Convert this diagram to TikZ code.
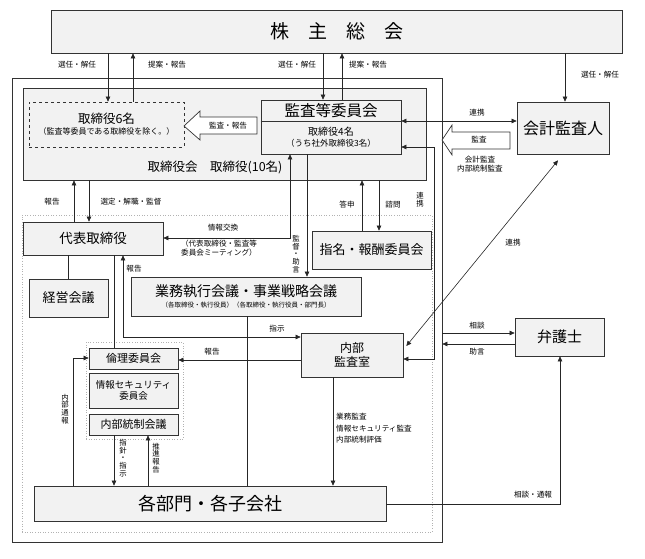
\documentclass[tikz,border=0pt]{standalone}
\usepackage{fontspec}
\setmainfont{Noto Sans CJK JP}
\usetikzlibrary{arrows.meta,calc}
\begin{document}
\begin{tikzpicture}[x=1pt,y=-1pt,
  box/.style={draw=black!80, fill=black!5, line width=0.7pt, inner sep=0pt, align=center},
  frame/.style={draw=black!80, line width=0.7pt, inner sep=0pt},
  dotbox/.style={draw=black!30, line width=0.6pt, dotted, inner sep=0pt},
  arr/.style={-{Triangle[length=5pt,width=4.5pt]}, line width=0.6pt, draw=black!85},
  darr/.style={{Triangle[length=5pt,width=4.5pt]}-{Triangle[length=5pt,width=4.5pt]}, line width=0.6pt, draw=black!85},
  ln/.style={line width=0.6pt, draw=black!85},
  lbl/.style={font=\fontsize{7.6}{8.6}\selectfont, inner sep=0pt, align=center},
  vlbl/.style={font=\fontsize{7.4}{7.8}\selectfont, inner sep=0pt, align=center},
  blk/.style={draw=black!80, fill=white, line width=0.7pt},
]
\useasboundingbox (0,0) rectangle (645,559);

% frames
\node[frame, minimum width=430pt, minimum height=464pt] (outer) at (227,310) {};
\node[box, minimum width=403pt, minimum height=92pt] (board) at (224.5,134) {};
\node[dotbox, minimum width=410pt, minimum height=317pt] (exec) at (227,373.5) {};
\node[dotbox, minimum width=97pt, minimum height=97pt] (grp) at (134.5,390.5) {};

% boxes
\node[box, minimum width=571pt, minimum height=43pt, font=\fontsize{19}{22}\selectfont] (sh) at (336.5,31.5) {株　主　総　会};
\node[box, dashed, minimum width=155pt, minimum height=45pt] (d6) at (106.5,124.5) {};
\node[inner sep=0pt, align=center] (d6t) at (106.5,124.5) {{\fontsize{12.5}{15}\selectfont 取締役6名}\\[-1pt]{\fontsize{8}{10}\selectfont （監査等委員である取締役を除く。）}};
\node[box, minimum width=140pt, minimum height=54pt] (kansa) at (331,127) {};
\node[inner sep=0pt, font=\fontsize{15.5}{18}\selectfont] (kansat) at (331,110.5) {監査等委員会};
\node[inner sep=0pt, align=center] (kansab) at (331,137.5) {{\fontsize{10}{12}\selectfont 取締役4名}\\[-1pt]{\fontsize{8.5}{10}\selectfont （うち社外取締役3名）}};
\node[inner sep=0pt, font=\fontsize{12.5}{15}\selectfont] (boardt) at (215,167) {取締役会　取締役(10名)};
\node[box, minimum width=92pt, minimum height=52pt, font=\fontsize{16}{19}\selectfont] (kaikei) at (563,128) {会計監査人};
\node[box, minimum width=140pt, minimum height=33pt, font=\fontsize{13.5}{16}\selectfont] (daihyo) at (93,238.5) {代表取締役};
\node[box, minimum width=79pt, minimum height=38pt, font=\fontsize{13}{15}\selectfont] (keiei) at (68.5,298) {経営会議};
\node[box, minimum width=230pt, minimum height=39pt] (gyomu) at (246,296.5) {{\fontsize{14}{16}\selectfont 業務執行会議・事業戦略会議}\\[-1pt]{\fontsize{6.5}{8}\selectfont （各取締役・執行役員）（各取締役・執行役員・部門長）}};
\node[box, minimum width=119pt, minimum height=38pt, font=\fontsize{13}{15}\selectfont] (shimei) at (371.5,250) {指名・報酬委員会};
\node[box, minimum width=102pt, minimum height=44pt, font=\fontsize{12}{14}\selectfont] (naibu) at (352,355) {内部\\監査室};
\node[box, minimum width=89pt, minimum height=38pt, font=\fontsize{15}{18}\selectfont] (bengo) at (559.5,337) {弁護士};
\node[box, minimum width=89pt, minimum height=21pt, font=\fontsize{11}{13}\selectfont] (rinri) at (133.5,358.5) {倫理委員会};
\node[box, minimum width=89pt, minimum height=35pt, font=\fontsize{9.5}{11.5}\selectfont] (joho) at (133.5,390.5) {情報セキュリティ\\委員会};
\node[box, minimum width=89pt, minimum height=21pt, font=\fontsize{11}{13}\selectfont] (tosei) at (133.5,424.5) {内部統制会議};
\node[box, minimum width=352pt, minimum height=35pt, font=\fontsize{18}{21}\selectfont] (kakubu) at (210,503.5) {各部門・各子会社};

% divider of audit committee
\draw[line width=0.7pt, black!80] (kansa.west |- 0,121) -- (kansa.east |- 0,121);

% block arrows
\draw[blk] (184,126) -- (200,111) -- (200,117) -- (257,117) -- (257,134) -- (200,134) -- (200,140) -- cycle;
\node[lbl] (bl1) at (228,126) {監査・報告};
\draw[blk] (442,140) -- (452,125) -- (452,132) -- (510,132) -- (510,149) -- (452,149) -- (452,155) -- cycle;
\node[lbl] (bl2) at (479,140) {監査};
\node[lbl] (bl2b) at (480,164) {会計監査\\内部統制監査};

% shareholders arrows
\draw[arr] (108,0 |- sh.south) -- (108,0 |- d6.north);
\draw[arr] (133,0 |- d6.north) -- (133,0 |- sh.south);
\draw[arr] (323,0 |- sh.south) -- (323,0 |- kansa.north);
\draw[arr] (342,0 |- kansa.north) -- (342,0 |- sh.south);
\draw[arr] (565,0 |- sh.south) -- (565,0 |- kaikei.north);
\node[lbl] (l1) at (77,65) {選任・解任};
\node[lbl] (l2) at (167,65) {提案・報告};
\node[lbl] (l3) at (297,65) {選任・解任};
\node[lbl] (l4) at (368,65) {提案・報告};
\node[lbl] (l5) at (600,75) {選任・解任};

% audit committee <-> accounting auditor
\draw[darr] (kansa.east |- 0,121) -- (kaikei.west |- 0,121);
\node[lbl] (l6) at (477,113) {連携};

% board <-> representative director
\draw[arr] (74,0 |- daihyo.north) -- (74,0 |- board.south);
\draw[arr] (89,0 |- board.south) -- (89,0 |- daihyo.north);
\node[lbl] (l7) at (52,202) {報告};
\node[lbl] (l8) at (131,202) {選定・解職・監督};

% board <-> nomination committee
\draw[arr] (362,0 |- shimei.north) -- (362,0 |- board.south);
\draw[arr] (379,0 |- board.south) -- (379,0 |- shimei.north);
\node[lbl] (l9) at (347,205) {答申};
\node[lbl] (l10) at (393,205) {諮問};

% audit committee <-> internal audit
\draw[darr] (kansa.east |- 0,147) -- (434,147) -- (434,359) -- (naibu.east |- 0,359);
\node[vlbl] (l11) at (420,200) {連\\携};

% information exchange
\draw[darr] (290,0 |- kansa.south) -- (290,238) -- (daihyo.east |- 0,238);
\node[lbl] (l12) at (223,228) {情報交換};
\node[lbl] (l13) at (219,248) {（代表取締役・監査等\\委員会ミーティング）};

% supervision / advice
\draw[arr] (307,0 |- kansa.south) -- (307,0 |- gyomu.north);
\node[vlbl] (l14) at (296,254) {監\\督\\・\\助\\言};

% representative director lines
\draw[ln] (68,0 |- daihyo.south) -- (68,0 |- keiei.north);
\draw[ln] (114,0 |- daihyo.south) -- (114,0 |- rinri.north);
\draw[darr] (naibu.west |- 0,337) -- (123,337) -- (123,0 |- daihyo.south);
\node[lbl] (l15) at (134,269) {報告};
\node[lbl] (l16) at (277,329) {指示};

% execution meeting to departments
\draw[ln] (247,0 |- gyomu.south) -- (247,0 |- kakubu.north);

% internal audit report to ethics committee
\draw[arr] (naibu.west |- 0,360) -- (rinri.east |- 0,360);
\node[lbl] (l17) at (212,352) {報告};

% whistleblowing
\draw[arr] (73,0 |- kakubu.north) -- (73,358) -- (rinri.west |- 0,358);
\node[vlbl] (l18) at (65,409) {内\\部\\通\\報};

% internal control meeting <-> departments
\draw[arr] (114,0 |- tosei.south) -- (114,0 |- kakubu.north);
\draw[arr] (148,0 |- kakubu.north) -- (148,0 |- tosei.south);
\node[vlbl] (l19) at (123,458) {指\\針\\・\\指\\示};
\node[vlbl] (l20) at (156,458) {推\\進\\報\\告};

% internal audit to departments
\draw[arr] (333,0 |- naibu.south) -- (333,0 |- kakubu.north);
\node[lbl, anchor=north west, align=left, font=\fontsize{7.6}{11.5}\selectfont] (l21) at (336,413) {業務監査\\情報セキュリティ監査\\内部統制評価};

% internal audit <-> accounting auditor
\draw[darr] ([xshift=3pt,yshift=9pt]naibu.east) -- ([xshift=-5pt,yshift=-6pt]kaikei.south);
\node[lbl] (l22) at (513,243) {連携};

% lawyer
\draw[arr] (outer.east |- 0,333) -- (bengo.west |- 0,333);
\draw[arr] (bengo.west |- 0,344) -- (outer.east |- 0,344);
\node[lbl] (l23) at (477,326) {相談};
\node[lbl] (l24) at (477,352) {助言};
\draw[arr] (kakubu.east |- 0,504) -- (560,504) -- (560,0 |- bengo.south);
\node[lbl] (l25) at (533,495) {相談・通報};
\end{tikzpicture}
\end{document}
